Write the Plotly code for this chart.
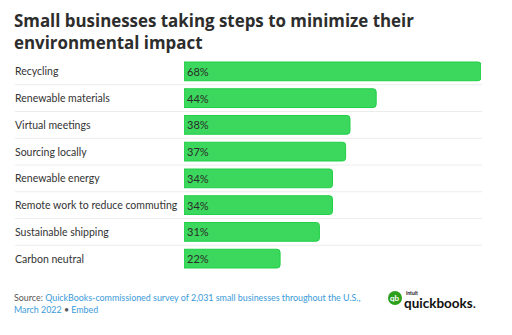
import plotly.graph_objects as go

categories = ["Recycling", "Renewable materials", "Virtual meetings", "Sourcing locally",
              "Renewable energy", "Remote work to reduce commuting", "Sustainable shipping",
              "Carbon neutral"]
values = [68, 44, 38, 37, 34, 34, 31, 22]

W, H = 512, 335
MT, MB = 58, 63
PLOT_H = H - MT - MB
FONT = "Lato, Open Sans, sans-serif"


def py(pix):
    """pixel from top -> paper y coordinate (paper relative to plot area)"""
    return (H - MB - pix) / PLOT_H


def px(pix):
    return pix / W


fig = go.Figure()
fig.add_trace(go.Bar(
    x=values, y=categories, orientation="h",
    marker=dict(color="#3bd85d", line=dict(color="#20cf47", width=1)),
    width=0.7,
    text=[f"{v}%" for v in values],
    textposition="inside", insidetextanchor="start",
    textfont=dict(family=FONT, size=11, color="#2b2b2b"),
    constraintext="none",
    hoverinfo="skip",
))

shapes = []
for i in range(len(categories) - 1):
    shapes.append(dict(type="line", xref="paper", yref="y",
                       x0=px(15), x1=px(482), y0=i + 0.5, y1=i + 0.5,
                       line=dict(color="#ececec", width=1)))

annotations = []
for c in categories:
    annotations.append(dict(xref="paper", yref="y", x=px(13), y=c, text=c,
                            xanchor="left", yanchor="middle", showarrow=False,
                            font=dict(family=FONT, size=10.5, color="#333333")))

# title
annotations.append(dict(xref="paper", yref="paper", x=px(12), y=py(7),
                        text="<b>Small businesses taking steps to minimize their<br>environmental impact</b>",
                        xanchor="left", yanchor="top", align="left", showarrow=False,
                        font=dict(family="Open Sans, sans-serif", size=16.9, color="#2d2d2d")))
# footer
annotations.append(dict(xref="paper", yref="paper", x=px(12), y=py(290),
                        text="<span style='color:#555555'>Source: </span>QuickBooks-commissioned survey of 2,031 small businesses throughout the U.S.,<br>March 2022 <span style='color:#555555'>•</span> Embed",
                        xanchor="left", yanchor="top", align="left", showarrow=False,
                        font=dict(family=FONT, size=8.9, color="#3a9ad9")))
# logo
shapes.append(dict(type="circle", xref="paper", yref="paper",
                   x0=px(388), x1=px(402), y0=py(305), y1=py(291),
                   fillcolor="#2ca01c", line=dict(width=0)))
annotations.append(dict(xref="paper", yref="paper", x=px(395), y=py(298), text="<b>qb</b>",
                        xanchor="center", yanchor="middle", showarrow=False,
                        font=dict(family=FONT, size=8, color="white")))
annotations.append(dict(xref="paper", yref="paper", x=px(404), y=py(292.5), text="<b>intuit</b>",
                        xanchor="left", yanchor="middle", showarrow=False,
                        font=dict(family=FONT, size=5, color="#111111")))
annotations.append(dict(xref="paper", yref="paper", x=px(402), y=py(302.5), text="<b>quickbooks</b>.",
                        xanchor="left", yanchor="middle", showarrow=False,
                        font=dict(family=FONT, size=13.5, color="#111111")))

fig.update_layout(
    width=W, height=H,
    margin=dict(l=0, r=0, t=MT, b=MB),
    paper_bgcolor="white", plot_bgcolor="white",
    barcornerradius=3,
    showlegend=False,
    xaxis=dict(domain=[px(184), px(481)], range=[0, 68], visible=False, fixedrange=True),
    yaxis=dict(categoryorder="array", categoryarray=categories, autorange="reversed",
               showticklabels=False, showgrid=False, zeroline=False, fixedrange=True),
    shapes=shapes, annotations=annotations,
)

fig.write_html("out.html", config={"displayModeBar": False})
